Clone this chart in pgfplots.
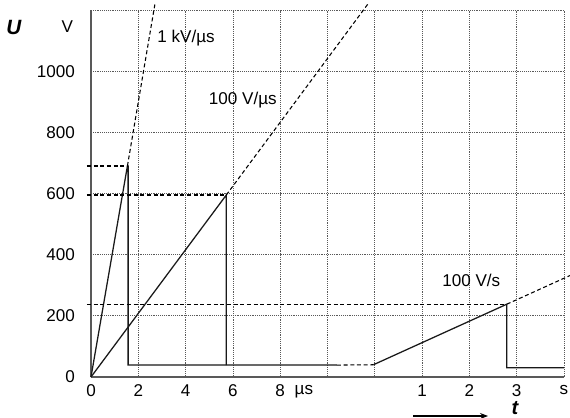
\documentclass[border=0pt]{standalone}
\usepackage{fontspec}
\setmainfont{Liberation Sans}
\usepackage{pgfplots}
\pgfplotsset{compat=1.18}
\usetikzlibrary{arrows.meta}
\newcommand\lbl{\fontsize{12.8}{15}\selectfont}

\begin{document}
\begin{tikzpicture}[x=0.75pt,y=0.75pt]
\path[use as bounding box] (-91,-40) rectangle (479,377);
\begin{axis}[
  at={(0,0)}, anchor=south west,
  scale only axis, width=354.75pt, height=275.25pt,
  xmin=0, xmax=10, ymin=0, ymax=1200,
  axis x line*=bottom, axis y line*=left,
  axis line style={-, line width=1.2pt, black!65},
  xtick={0,...,10}, xticklabels={0,2,4,6,8,,,1,2,3,s},
  extra x ticks={4.5}, extra x tick labels={µs},
  extra x tick style={grid=none},
  ytick={0,200,...,1200}, yticklabels={0,200,400,600,800,1000,},
  grid=major, major grid style={densely dotted, black!65, line width=0.6pt},
  tick style={draw=none},
  tick label style={font=\lbl},
  /pgf/number format/assume math mode=true,
  xticklabel style={yshift=-2.5pt},
  yticklabel style={xshift=-8.5pt},
  clip=false,
]
% solid curves
\addplot[black!90, line width=0.95pt] coordinates {(0,0) (0.77,690) (0.785,690) (0.785,39) (5.2,39)};
\addplot[black!90, line width=0.95pt] coordinates {(0,0) (2.86,595) (2.86,39)};
\addplot[black!90, line width=0.95pt] coordinates {(5.97,40) (8.79,238) (8.79,30) (10,30)};
% dashed extensions
\addplot[black, line width=0.8pt, dash pattern=on 3pt off 2pt] coordinates {(0.77,690) (1.35,1218)};
\addplot[black, line width=0.8pt, dash pattern=on 3pt off 2pt] coordinates {(2.86,595) (5.88,1225)};
\addplot[black, line width=0.8pt, dash pattern=on 3pt off 2pt] coordinates {(8.79,238) (10.13,332)};
\addplot[black, line width=0.8pt, dash pattern=on 3pt off 2pt] coordinates {(5.2,39) (5.97,40)};
% dashed levels
\addplot[black, line width=0.8pt, dash pattern=on 3pt off 2pt] coordinates {(-0.085,690) (0.77,690)};
\addplot[black, line width=0.8pt, dash pattern=on 3pt off 2pt] coordinates {(-0.085,595) (2.86,595)};
\addplot[black, line width=0.8pt, dash pattern=on 3pt off 2pt] coordinates {(-0.085,238) (8.79,238)};

\node[font=\lbl] at (axis cs:2.01,1108) {1 kV/µs};
\node[font=\lbl] at (axis cs:3.21,905) {100 V/µs};
\node[font=\lbl] at (axis cs:8.04,317) {100 V/s};
\node[font=\fontsize{15.5}{17}\selectfont\bfseries\itshape] at (axis cs:-1.63,1144) {U};
\node[font=\lbl] at (axis cs:-0.5,1144) {V};
\end{axis}
\draw[-{Stealth[length=6pt]}, line width=0.8pt] (322,-39) -- (397,-39);
\node[font=\fontsize{15}{17}\selectfont\bfseries\itshape] at (424,-31) {t};
\end{tikzpicture}
\end{document}
